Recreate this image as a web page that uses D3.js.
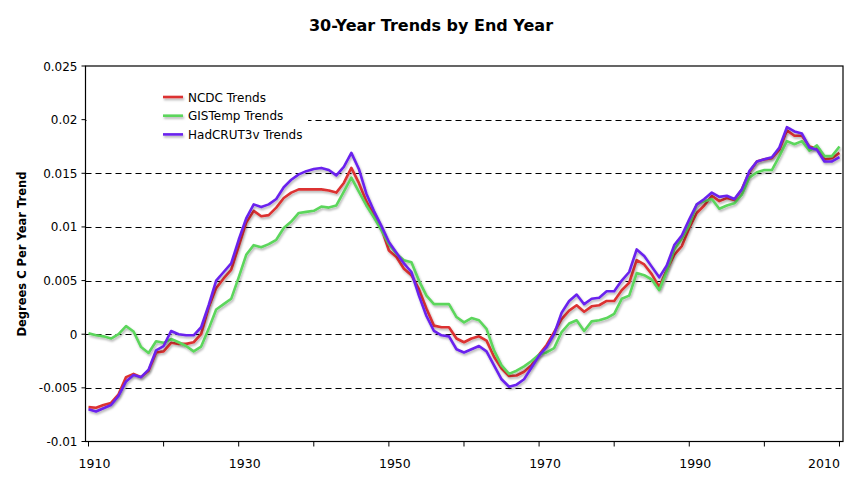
<!DOCTYPE html>
<html lang="en">
<head>
  <meta charset="UTF-8">
  <title>30-Year Trends by End Year</title>
  <script src="https://cdn.jsdelivr.net/npm/d3@7"></script>
  <style>
    body { margin: 0; background: #fff; }
    text { font-family: "DejaVu Sans", Verdana, sans-serif; }
  </style>
</head>
<body>
  <script>
    // end years of the 30-year windows
    const years = d3.range(1910, 2011);

    const ncdc = [
      -0.0068, -0.00685, -0.0066, -0.0064, -0.0056, -0.0040, -0.0037, -0.0040, -0.0034, -0.0017,
      -0.0016, -0.0008, -0.0009, -0.0009, -0.00075, 0.0000, 0.0025, 0.0043, 0.0052, 0.0060,
      0.0082, 0.0104, 0.0115, 0.0110, 0.0111, 0.0118, 0.0127, 0.0132, 0.0135, 0.0135,
      0.0135, 0.0135, 0.0134, 0.0132, 0.0141, 0.0155, 0.0141, 0.0124, 0.0111, 0.0099,
      0.0078, 0.0072, 0.0061, 0.0055, 0.0042, 0.0024, 0.0008, 0.00065, 0.00065, -0.0004,
      -0.00075, -0.0004, -0.0002, -0.0006, -0.0021, -0.0032, -0.0039, -0.00385, -0.0035, -0.0029,
      -0.0019, -0.0010, 0.0002, 0.0014, 0.0022, 0.0027, 0.0021, 0.0026, 0.0027, 0.0031,
      0.0031, 0.0041, 0.0048, 0.0069, 0.0065, 0.0056, 0.0044, 0.0060, 0.0074, 0.0082,
      0.0099, 0.0113, 0.0120, 0.0129, 0.0124, 0.0127, 0.0125, 0.0135, 0.0151, 0.0161,
      0.0163, 0.0164, 0.0172, 0.0190, 0.0185, 0.0185, 0.0175, 0.0173, 0.0163, 0.0164,
      0.0169
    ];

    const gistemp = [
      0.0001, -0.0001, -0.0002, -0.0004, 0.0000, 0.00075, 0.00025, -0.0012, -0.00175, -0.00065,
      -0.0008, -0.00045, -0.00075, -0.0011, -0.0016, -0.00115, 0.0005, 0.0023, 0.0028, 0.0033,
      0.0053, 0.0074, 0.0083, 0.0081, 0.0084, 0.0088, 0.0099, 0.0105, 0.0113, 0.0114,
      0.0115, 0.0119, 0.0118, 0.0120, 0.0133, 0.0146, 0.0133, 0.0120, 0.0109, 0.0097,
      0.0084, 0.0075, 0.0069, 0.0067, 0.0050, 0.0036, 0.0028, 0.0028, 0.0028, 0.0016,
      0.0011, 0.0015, 0.0013, 0.0005, -0.0015, -0.0029, -0.0037, -0.0034, -0.0030, -0.0025,
      -0.0019, -0.0017, -0.0013, 0.0002, 0.0010, 0.0013, 0.0003, 0.0012, 0.0013, 0.0015,
      0.0019, 0.0033, 0.0036, 0.0057, 0.0055, 0.0051, 0.0041, 0.0059, 0.0079, 0.0089,
      0.0102, 0.0121, 0.0124, 0.0126, 0.0117, 0.0120, 0.0122, 0.0130, 0.0146, 0.0151,
      0.0153, 0.0153, 0.0166, 0.0180, 0.0177, 0.0180, 0.0171, 0.0176, 0.0166, 0.0166,
      0.0175
    ];

    const hadcrut = [
      -0.0070, -0.0072, -0.0069, -0.0066, -0.00575, -0.0044, -0.0038, -0.0040, -0.0033, -0.0015,
      -0.0011, 0.0003, 0.0000, -0.0001, -0.0001, 0.00065, 0.0027, 0.0050, 0.0058, 0.0066,
      0.0088, 0.0108, 0.0121, 0.01185, 0.0121, 0.0126, 0.0137, 0.0144, 0.0149, 0.0152,
      0.0154, 0.0155, 0.0153, 0.0148, 0.0156, 0.0169, 0.0154, 0.0131, 0.0115, 0.0101,
      0.0086, 0.0076, 0.0066, 0.0058, 0.0036, 0.0017, 0.0003, -0.0001, -0.0002, -0.0014,
      -0.0017, -0.0014, -0.0011, -0.0016, -0.0029, -0.0042, -0.0049, -0.0047, -0.0042, -0.0031,
      -0.0020, -0.0012, 0.0000, 0.0020, 0.0031, 0.0037, 0.0028, 0.0033, 0.0034, 0.0040,
      0.0040, 0.0050, 0.0058, 0.0079, 0.0073, 0.0063, 0.0053, 0.0064, 0.0083, 0.0092,
      0.0107, 0.0121, 0.0126, 0.0132, 0.0128, 0.0129, 0.0126, 0.0135, 0.0152, 0.0161,
      0.0163, 0.0165, 0.0174, 0.0193, 0.0189, 0.0187, 0.0174, 0.0172, 0.0161, 0.0161,
      0.0165
    ];

    const seriesNames = ["NCDC Trends", "GISTemp Trends", "HadCRUT3v Trends"];
    const seriesColors = ["#dc3232", "#5cd65c", "#6a22ee"];
    const seriesValues = [ncdc, gistemp, hadcrut];

    const yTicks = [-0.01, -0.005, 0, 0.005, 0.01, 0.015, 0.02, 0.025];
    const yTickLabels = ["-0.01", "-0.005", "0", "0.005", "0.01", "0.015", "0.02", "0.025"];
    const xTicks = d3.range(1910, 2011, 10);
    const xLabelYears = [1910, 1930, 1950, 1970, 1990, 2010];

    const W = 859, H = 478;
    const plot = { left: 85.5, right: 843, top: 66, bottom: 441.5 };

    const svg = d3.select("body").append("svg")
      .attr("width", W)
      .attr("height", H);

    const x = d3.scaleLinear()
      .domain([1909.6, 2010.47])
      .range([plot.left, plot.right]);

    const y = d3.scaleLinear()
      .domain([-0.01, 0.025])
      .range([plot.bottom, plot.top]);

    // drop shadow like the excel lines (user space so flat legend lines keep it)
    const defs = svg.append("defs");
    defs.append("filter")
      .attr("id", "shadow")
      .attr("filterUnits", "userSpaceOnUse")
      .attr("x", 0).attr("y", 0)
      .attr("width", W).attr("height", H)
      .append("feDropShadow")
      .attr("dx", 1).attr("dy", 1.8)
      .attr("stdDeviation", 0.9)
      .attr("flood-color", "#000")
      .attr("flood-opacity", 0.3);

    // dashed gridlines
    svg.append("g")
      .selectAll("line")
      .data(yTicks.filter(d => d > -0.01 && d < 0.025))
      .enter()
      .append("line")
      .attr("x1", plot.left)
      .attr("x2", plot.right)
      .attr("y1", d => Math.round(y(d)) + 0.5)
      .attr("y2", d => Math.round(y(d)) + 0.5)
      .attr("stroke", "#000")
      .attr("stroke-width", 1)
      .attr("stroke-dasharray", "6,4");

    // legend box hides part of the top gridline
    const legend = svg.append("g");
    legend.append("rect")
      .attr("x", plot.left + 1).attr("y", 84)
      .attr("width", 308 - plot.left - 1).attr("height", 60)
      .attr("fill", "#fff");

    // series
    const line = d3.line()
      .x((d, i) => x(years[i]))
      .y(d => y(d));

    svg.append("g")
      .selectAll("path")
      .data(seriesValues)
      .enter()
      .append("path")
      .attr("d", d => line(d))
      .attr("fill", "none")
      .attr("stroke", (d, i) => seriesColors[i])
      .attr("stroke-width", 2.6)
      .attr("stroke-linejoin", "round")
      .attr("filter", "url(#shadow)");

    // frame
    svg.append("rect")
      .attr("x", plot.left).attr("y", plot.top)
      .attr("width", plot.right - plot.left)
      .attr("height", plot.bottom - plot.top)
      .attr("fill", "none")
      .attr("stroke", "#000")
      .attr("stroke-width", 1.2);

    // y ticks + labels
    const yAxis = svg.append("g");
    yAxis.selectAll("line")
      .data(yTicks)
      .enter()
      .append("line")
      .attr("x1", plot.left - 4).attr("x2", plot.left)
      .attr("y1", d => y(d)).attr("y2", d => y(d))
      .attr("stroke", "#000");
    yAxis.selectAll("text")
      .data(yTicks)
      .enter()
      .append("text")
      .attr("x", plot.left - 8)
      .attr("y", d => y(d) + 4.5)
      .attr("text-anchor", "end")
      .attr("font-size", 12)
      .text((d, i) => yTickLabels[i]);

    // x ticks + labels
    const xAxis = svg.append("g");
    xAxis.selectAll("line")
      .data(xTicks)
      .enter()
      .append("line")
      .attr("x1", d => x(d)).attr("x2", d => x(d))
      .attr("y1", plot.bottom).attr("y2", plot.bottom + 5)
      .attr("stroke", "#000");
    xAxis.selectAll("text")
      .data(xLabelYears)
      .enter()
      .append("text")
      .attr("x", d => Math.min(x(d) + 6, 824))
      .attr("y", 468)
      .attr("text-anchor", "middle")
      .attr("font-size", 12.5)
      .text(d => d);

    // legend entries
    seriesNames.forEach((name, i) => {
      const ly = 97 + i * 18.7;
      legend.append("line")
        .attr("x1", 163).attr("x2", 183)
        .attr("y1", ly).attr("y2", ly)
        .attr("stroke", seriesColors[i])
        .attr("stroke-width", 2.6)
        .attr("filter", "url(#shadow)");
      legend.append("text")
        .attr("x", 188)
        .attr("y", ly + 4.5)
        .attr("font-size", 12)
        .text(name);
    });

    // title
    svg.append("text")
      .attr("x", 431)
      .attr("y", 31)
      .attr("text-anchor", "middle")
      .attr("font-size", 16)
      .attr("font-weight", "bold")
      .text("30-Year Trends by End Year");

    // y axis title
    svg.append("text")
      .attr("transform", "translate(26, 254) rotate(-90)")
      .attr("text-anchor", "middle")
      .attr("font-size", 11.5)
      .attr("font-weight", "bold")
      .text("Degrees C Per Year Trend");
  </script>
</body>
</html>
